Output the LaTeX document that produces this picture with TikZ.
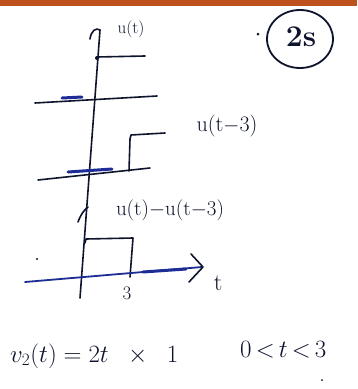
\documentclass[tikz,border=0pt]{standalone}
\usetikzlibrary{arrows.meta}
\definecolor{ink}{RGB}{15,20,45}
\definecolor{bink}{RGB}{30,45,150}
\definecolor{edge}{RGB}{190,80,30}
\begin{document}
\begin{tikzpicture}[x=1pt,y=-1pt,
  pen/.style={draw=ink,line width=1.6pt,line cap=round,line join=round},
  bpen/.style={draw=bink,line width=1.8pt,line cap=round,line join=round},
  lbl/.style={text=ink,inner sep=0pt}]
\useasboundingbox (0,0) rectangle (357,389);
\fill[white] (0,0) rectangle (357,389);
\fill[edge] (0,0) rectangle (357,6);
% main vertical axis
\coordinate (vtop) at (100,30);
\coordinate (vbot) at (80,298);
\draw[pen] (vtop) -- (vbot);
\draw[pen] (90,39) .. controls (91,31) and (96,27) .. (vtop);
\node[lbl,font=\fontsize{17}{19}\selectfont] (ulab) at (131,29) {u(t)};
% plot 1: u(t)
\draw[pen] (97,57) -- (145,56);
\fill[ink] (97,58) circle (2);
\draw[pen] (35,103) -- (157,96);
\draw[bpen,line width=3pt] (62,98) -- (82,97);
% plot 2: u(t-3)
\draw[pen] (38,180) -- (150,168);
\draw[bpen,line width=3pt] (68,172) -- (112,169);
\draw[pen] (129,171) -- (130,139) -- (131,135) -- (165,133);
\node[lbl,font=\fontsize{22}{24}\selectfont] (u3lab) at (227,126) {u(t$-$3)};
% plot 3: u(t)-u(t-3)
\draw[pen] (78,222) .. controls (81,214) and (84,210) .. (88,207);
\node[lbl,font=\fontsize{21}{23}\selectfont] (difflab) at (170,210) {u(t)$-$u(t$-$3)};
\draw[pen] (85,243) -- (86,239) -- (133,238) -- (130,277);
\coordinate (tl) at (25,282);
\coordinate (tr) at (202,267);
\draw[bpen] (tl) -- (tr);
\draw[bpen,line width=3pt] (143,272) -- (186,269);
\draw[pen] (191,254) -- (203,267) -- (189,282);
\node[lbl,font=\fontsize{24}{26}\selectfont] (tlab) at (218,283) {t};
\node[lbl,font=\fontsize{19}{21}\selectfont] (three) at (127,293) {3};
% circled label
\draw[ink,line width=1.8pt] (300,39) ellipse (33 and 29);
\node[lbl,font=\fontsize{30}{32}\selectfont\bfseries] (num) at (301,37) {2s};
\fill[ink] (258,34) circle (1.5);
\fill[ink] (37,259) circle (1.2);
\fill[ink] (322,380) circle (1);
% bottom equations
\node[lbl,anchor=west,font=\fontsize{25}{27}\selectfont] (eq) at (10,356) {$v_2(t)=2t\;\;\times\;\;1$};
\node[lbl,anchor=west,font=\fontsize{25}{27}\selectfont] (rng) at (240,350) {$0\,{<}\,t\,{<}\,3$};
\end{tikzpicture}
\end{document}
